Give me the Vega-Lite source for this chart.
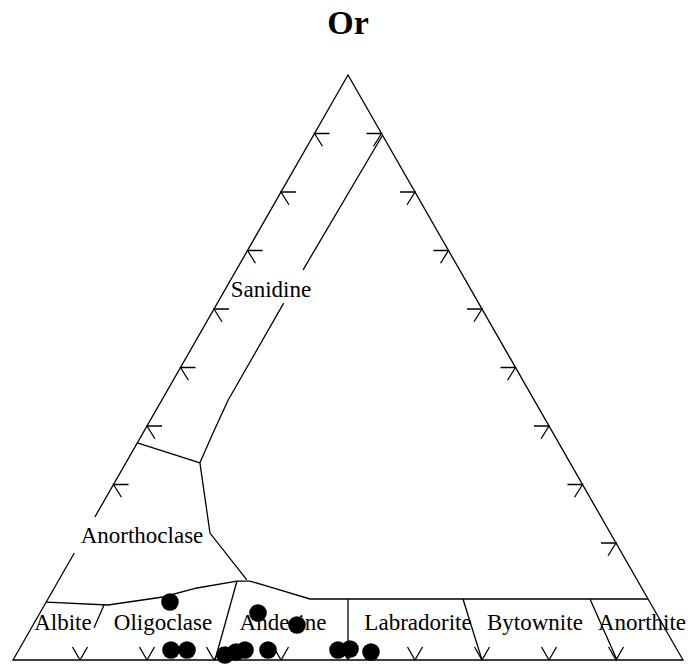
{
  "$schema": "https://vega.github.io/schema/vega-lite/v6.json",
  "width": 670,
  "height": 585,
  "autosize": {"type": "none"},
  "padding": {"left": 13, "top": 75, "right": 8, "bottom": 4},
  "background": "white",
  "config": {"view": {"stroke": null}},
  "datasets": {
    "lines": [
      {"id": "tri", "o": 1, "x": 9.15, "y": 18.29},
      {"id": "tri", "o": 2, "x": 0, "y": 0},
      {"id": "tri", "o": 3, "x": 100, "y": 0},
      {"id": "tri", "o": 4, "x": 50, "y": 100},
      {"id": "tri", "o": 5, "x": 12.22, "y": 24.44},
      {"id": "san1", "o": 1, "x": 55.15, "y": 89.7},
      {"id": "san1", "o": 2, "x": 43.3, "y": 66.7},
      {"id": "san2", "o": 1, "x": 40.4, "y": 61.0},
      {"id": "san2", "o": 2, "x": 32.1, "y": 44.4},
      {"id": "san2", "o": 3, "x": 29.85, "y": 38.8},
      {"id": "san2", "o": 4, "x": 27.9, "y": 33.7},
      {"id": "sa", "o": 1, "x": 18.55, "y": 37.1},
      {"id": "sa", "o": 2, "x": 27.9, "y": 33.7},
      {"id": "an", "o": 1, "x": 27.9, "y": 33.7},
      {"id": "an", "o": 2, "x": 29.4, "y": 21.7},
      {"id": "an", "o": 3, "x": 34.9, "y": 13.7},
      {"id": "plag", "o": 1, "x": 4.96, "y": 9.91},
      {"id": "plag", "o": 2, "x": 14.18, "y": 9.4},
      {"id": "plag", "o": 3, "x": 22.39, "y": 10.77},
      {"id": "plag", "o": 4, "x": 27.46, "y": 12.31},
      {"id": "plag", "o": 5, "x": 33.43, "y": 13.5},
      {"id": "plag", "o": 6, "x": 35.37, "y": 13.5},
      {"id": "plag", "o": 7, "x": 38.81, "y": 12.31},
      {"id": "plag", "o": 8, "x": 44.33, "y": 10.43},
      {"id": "plag", "o": 9, "x": 94.78, "y": 10.43},
      {"id": "ab_ol", "o": 1, "x": 13.58, "y": 9.42},
      {"id": "ab_ol", "o": 2, "x": 12.1, "y": 5.5},
      {"id": "ol_ad", "o": 1, "x": 33.43, "y": 13.5},
      {"id": "ol_ad", "o": 2, "x": 30.15, "y": 0},
      {"id": "ad_lb", "o": 1, "x": 50.0, "y": 10.43},
      {"id": "ad_lb", "o": 2, "x": 50.0, "y": 0},
      {"id": "lb_by", "o": 1, "x": 67.16, "y": 10.43},
      {"id": "lb_by", "o": 2, "x": 70.0, "y": 0},
      {"id": "by_an", "o": 1, "x": 86.12, "y": 10.43},
      {"id": "by_an", "o": 2, "x": 90.15, "y": 0}
    ],
    "leftTicks": [
      {"x": 15, "y": 30}, {"x": 20, "y": 40}, {"x": 25, "y": 50}, {"x": 30, "y": 60},
      {"x": 35, "y": 70}, {"x": 40, "y": 80}, {"x": 45, "y": 90}
    ],
    "rightTicks": [
      {"x": 90, "y": 20}, {"x": 85, "y": 30}, {"x": 80, "y": 40}, {"x": 75, "y": 50},
      {"x": 70, "y": 60}, {"x": 65, "y": 70}, {"x": 60, "y": 80}, {"x": 55, "y": 90}
    ],
    "baseTicks": [
      {"x": 10, "y": 0}, {"x": 20, "y": 0}, {"x": 30, "y": 0}, {"x": 40, "y": 0}, {"x": 50, "y": 0},
      {"x": 60, "y": 0}, {"x": 70, "y": 0}, {"x": 80, "y": 0}, {"x": 90, "y": 0}
    ],
    "labels": [
      {"label": "Albite", "x": 7.46, "y": 5.13},
      {"label": "Oligoclase", "x": 22.39, "y": 5.13},
      {"label": "Andesine", "x": 40.3, "y": 5.13},
      {"label": "Labradorite", "x": 60.45, "y": 5.13},
      {"label": "Bytownite", "x": 77.9, "y": 5.13},
      {"label": "Anorthite", "x": 93.88, "y": 5.13},
      {"label": "Sanidine", "x": 38.5, "y": 62.05},
      {"label": "Anorthoclase", "x": 19.25, "y": 20.0}
    ],
    "title": [{"label": "Or", "x": 50.0, "y": 107.0}],
    "samples": [
      {"x": 23.43, "y": 9.91},
      {"x": 36.57, "y": 8.03},
      {"x": 42.39, "y": 5.98},
      {"x": 23.58, "y": 1.71},
      {"x": 25.97, "y": 1.71},
      {"x": 31.64, "y": 0.85},
      {"x": 33.28, "y": 1.37},
      {"x": 34.63, "y": 1.71},
      {"x": 38.06, "y": 1.71},
      {"x": 48.51, "y": 1.71},
      {"x": 50.3, "y": 1.88},
      {"x": 53.43, "y": 1.37}
    ]
  },
  "encoding": {
    "x": {"field": "x", "type": "quantitative", "scale": {"domain": [0, 100], "nice": false, "zero": false}, "axis": null},
    "y": {"field": "y", "type": "quantitative", "scale": {"domain": [0, 100], "nice": false, "zero": false}, "axis": null}
  },
  "layer": [
    {
      "data": {"name": "lines"},
      "mark": {"type": "line", "color": "black", "strokeWidth": 1.3, "clip": false},
      "encoding": {
        "detail": {"field": "id", "type": "nominal"},
        "order": {"field": "o", "type": "quantitative"}
      }
    },
    {
      "data": {"name": "leftTicks"},
      "mark": {"type": "point", "shape": "M1,0L0,0L0.53,0.85", "size": 900, "filled": false, "color": "black", "strokeWidth": 1.3, "opacity": 1}
    },
    {
      "data": {"name": "rightTicks"},
      "mark": {"type": "point", "shape": "M-1,0L0,0L-0.53,0.85", "size": 900, "filled": false, "color": "black", "strokeWidth": 1.3, "opacity": 1}
    },
    {
      "data": {"name": "baseTicks"},
      "mark": {"type": "point", "shape": "M-0.5,-0.87L0,0L0.5,-0.87", "size": 900, "filled": false, "color": "black", "strokeWidth": 1.3, "opacity": 1}
    },
    {
      "data": {"name": "labels"},
      "mark": {"type": "text", "font": "Liberation Serif", "fontSize": 23, "align": "center", "baseline": "alphabetic", "color": "black"},
      "encoding": {"text": {"field": "label", "type": "nominal"}}
    },
    {
      "data": {"name": "title"},
      "mark": {"type": "text", "font": "Liberation Serif", "fontSize": 34, "fontWeight": "bold", "align": "center", "baseline": "alphabetic", "color": "black"},
      "encoding": {"text": {"field": "label", "type": "nominal"}}
    },
    {
      "data": {"name": "samples"},
      "mark": {"type": "point", "shape": "circle", "size": 310, "filled": true, "color": "black", "opacity": 1}
    }
  ]
}
